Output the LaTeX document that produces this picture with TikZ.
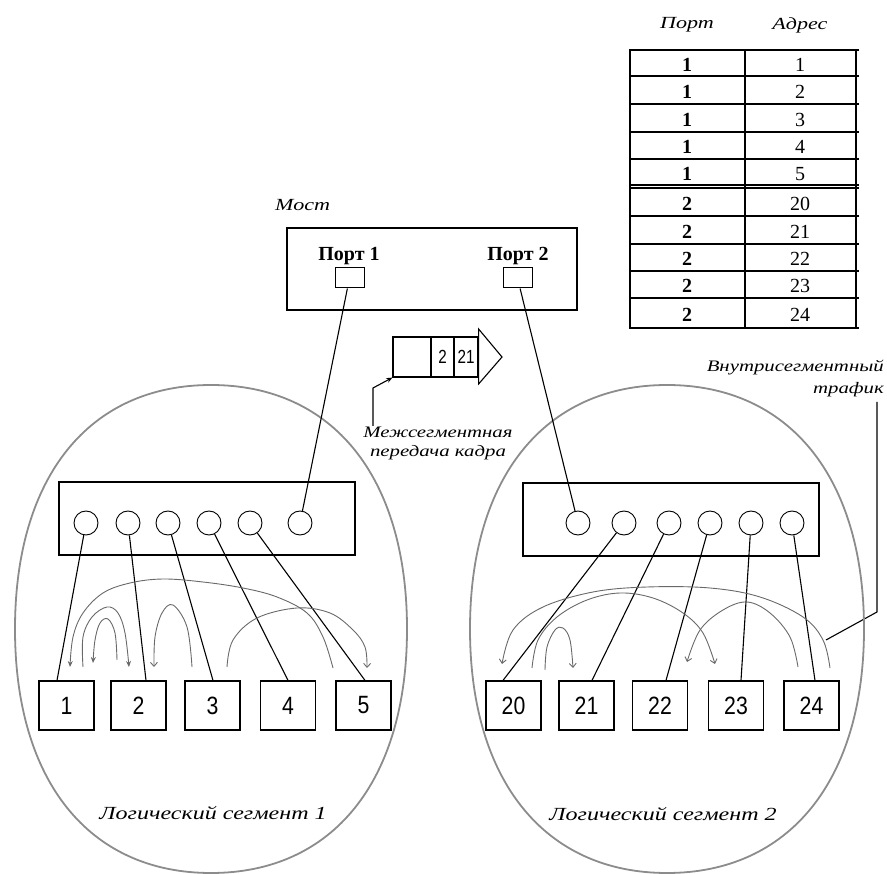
\documentclass[tikz,border=0pt]{standalone}
\usepackage{fontspec}
\setmainfont{Liberation Serif}
\newfontfamily\labfont{Liberation Serif}[FakeStretch=1.3]
\newfontfamily\digfont{Liberation Sans}[FakeStretch=0.85]
\newfontfamily\framefont{Liberation Sans}[FakeStretch=0.8]
\usetikzlibrary{arrows.meta}
\definecolor{seggray}{RGB}{140,140,140}
\definecolor{arcgray}{RGB}{105,105,105}
\begin{document}
\begin{tikzpicture}[x=1pt,y=-1pt,
  lab/.style={font=\labfont\itshape\fontsize{17}{19}\selectfont, inner sep=0},
  tabnum/.style={font=\fontsize{20}{20}\selectfont, inner sep=0},
  tabbold/.style={font=\bfseries\fontsize{20}{20}\selectfont, inner sep=0},
  box/.style={draw, line width=1.2pt, inner sep=0},
  dev/.style={box, minimum width=55pt, minimum height=49pt, font=\digfont\fontsize{25}{25}\selectfont},
  port/.style={draw, circle, line width=0.9pt, minimum size=24pt, inner sep=0},
  wire/.style={line width=1.1pt},
  seg/.style={draw=seggray, line width=1.8pt},
  arc/.style={draw=arcgray, line width=0.9pt},
  fill tip/.style={-{Stealth[length=6pt,width=5pt]}},
  open tip/.style={-{Straight Barb[length=4pt,width=7pt]}}
]
\useasboundingbox (0,0) rectangle (887,874);

% ---------- table ----------
\node[lab] (hport) at (687,25) {Порт};
\node[lab] (hadr) at (800,25) {Адрес};
\draw[line width=1.1pt] (630,50) rectangle (856,328);
\draw[line width=1.1pt] (745,50) -- (745,328);
\foreach \yy in {76,104,132,159,185,188,216,244,271,298}
  \draw[line width=1.1pt] (630,\yy) -- (859,\yy);
\draw[line width=1.1pt] (856,50) -- (859,50);
\draw[line width=1.1pt] (856,328) -- (859,328);
\foreach \i/\p/\a/\yc in {1/1/1/65,2/1/2/92,3/1/3/120,4/1/4/147,5/1/5/174,6/2/20/204,7/2/21/232,8/2/22/259,9/2/23/286,10/2/24/315}{
  \node[tabbold] (tp\i) at (687,\yc) {\p};
  \node[tabnum] (ta\i) at (800,\yc) {\a};
}

% ---------- bridge ----------
\node[lab, anchor=west] (most) at (275,205) {Мост};
\node[box, minimum width=290pt, minimum height=82pt] (bridge) at (432,269) {};
\node[font=\bfseries\fontsize{20}{20}\selectfont, inner sep=0] (pl1) at (349,256) {Порт 1};
\node[font=\bfseries\fontsize{20}{20}\selectfont, inner sep=0] (pl2) at (518,256) {Порт 2};
\node[box, line width=1pt, minimum width=29pt, minimum height=20pt] (p1) at (349.5,278) {};
\node[box, line width=1pt, minimum width=29pt, minimum height=20pt] (p2) at (517.5,278) {};

% ---------- frame ----------
\node[box, minimum width=38pt, minimum height=40pt] (f0) at (412,357) {};
\node[box, minimum width=23pt, minimum height=40pt, font=\framefont\fontsize{19}{19}\selectfont] (f1) at (442.5,357) {2};
\node[box, minimum width=24pt, minimum height=40pt, font=\framefont\fontsize{19}{19}\selectfont] (f2) at (466,357) {21};
\draw[line width=1.1pt] (f2.east |- 0,329) -- (502,357) -- (f2.east |- 0,384) -- cycle;

\node[lab, align=center, font=\labfont\itshape\fontsize{16}{19}\selectfont] (mlab) at (438,443) {Межсегментная\\передача кадра};
\coordinate (mptr) at (373,426);
\coordinate (mbend) at (373,388);
\draw[wire, fill tip] (mptr) -- (mbend) -- (f0.south west);

\node[lab, align=right, anchor=east, font=\labfont\itshape\fontsize{16}{22}\selectfont] (vlab) at (884,379) {Внутрисегментный\\трафик};
\coordinate (vtop) at (877,402);
\coordinate (vbend) at (877,612);
\coordinate (vend) at (826,640);
\draw[wire] (vtop) -- (vbend) -- (vend);

% ---------- segments ----------
\draw[seg] (15,629) .. controls (15,477) and (89,385) .. (211,385)
  .. controls (333,385) and (407,477) .. (407,629)
  .. controls (407,781) and (333,873) .. (211,873)
  .. controls (89,873) and (15,781) .. (15,629);
\draw[seg] (470,629) .. controls (470,477) and (545,385) .. (667,385)
  .. controls (789,385) and (864,477) .. (864,629)
  .. controls (864,781) and (789,873) .. (667,873)
  .. controls (545,873) and (470,781) .. (470,629);

\node[lab, font=\labfont\itshape\fontsize{18.5}{18.5}\selectfont] (seg1) at (213,813) {Логический сегмент 1};
\node[lab, font=\labfont\itshape\fontsize{18.5}{18.5}\selectfont] (seg2) at (663,814) {Логический сегмент 2};

% ---------- hubs ----------
\node[box, minimum width=296pt, minimum height=73pt] (hubL) at (207,518.5) {};
\node[box, minimum width=296pt, minimum height=73pt] (hubR) at (671,519.5) {};
\foreach \i/\xx in {1/86,2/128,3/168,4/209,5/250,6/300}
  \node[port] (lc\i) at (\xx,523) {};
\foreach \i/\xx in {1/578,2/624,3/669,4/710,5/751,6/792}
  \node[port] (rc\i) at (\xx,523) {};

% ---------- devices ----------
\foreach \i/\xx in {1/66.5,2/138.5,3/212.5,4/288,5/363.5}
  \node[dev] (d\i) at (\xx,705.5) {\i};
\node[dev] (d20) at (513.5,705.5) {20};
\node[dev] (d21) at (586.5,705.5) {21};
\node[dev] (d22) at (660,705.5) {22};
\node[dev] (d23) at (736,705.5) {23};
\node[dev] (d24) at (811.5,705.5) {24};

% ---------- wires ----------
\draw[wire] (p1) -- (lc6);
\draw[wire] (p2) -- (rc1);
\draw[wire] (lc1) -- ([xshift=-9.5pt]d1.north);
\draw[wire] (lc2) -- ([xshift=7.5pt]d2.north);
\draw[wire] (lc3) -- ([xshift=0.5pt]d3.north);
\draw[wire] (lc4) -- (d4.north);
\draw[wire] (lc5) -- ([xshift=1.5pt]d5.north);
\draw[wire] (rc2) -- ([xshift=-10.5pt]d20.north);
\draw[wire] (rc3) -- ([xshift=5.5pt]d21.north);
\draw[wire] (rc4) -- ([xshift=6pt]d22.north);
\draw[wire] (rc5) -- ([xshift=5pt]d23.north);
\draw[wire] (rc6) -- ([xshift=3.5pt]d24.north);

% ---------- intra-segment traffic, segment 1 ----------
\draw[arc, fill tip] plot[smooth, tension=0.6] coordinates {(333,668) (323,637) (307,613) (277,597) (243,588) (203,582) (163,579) (130,583) (103,593) (83,613) (73,637) (70,667)};
\draw[arc, fill tip] plot[smooth, tension=0.6] coordinates {(83,667) (83,637) (92,617) (107,607) (118,613) (125,633) (129,667)};
\draw[arc, fill tip] plot[smooth, tension=0.6] coordinates {(117,660) (115,633) (108,619) (100,623) (95,640) (93,663)};
\draw[arc, open tip] plot[smooth, tension=0.6] coordinates {(192,667) (187,627) (173,605) (162,613) (155,637) (154,667)};
\draw[arc, open tip] plot[smooth, tension=0.6] coordinates {(227,667) (233,640) (257,618) (297,608) (330,613) (353,630) (365,647) (367,668)};

% ---------- intra-segment traffic, segment 2 ----------
\draw[arc, open tip] plot[smooth, tension=0.6] coordinates {(830,668) (823,640) (803,617) (760,597) (710,588) (647,587) (593,592) (543,607) (513,630) (502,664)};
\draw[arc, open tip] plot[smooth, tension=0.6] coordinates {(532,668) (538,640) (557,617) (587,600) (620,593) (653,598) (683,613) (703,633) (715,664)};
\draw[arc, open tip] plot[smooth, tension=0.6] coordinates {(545,670) (547,647) (555,630) (563,628) (570,640) (573,668)};
\draw[arc, open tip] plot[smooth, tension=0.6] coordinates {(798,667) (790,637) (770,613) (747,602) (723,610) (700,630) (687,662)};
\end{tikzpicture}
\end{document}
